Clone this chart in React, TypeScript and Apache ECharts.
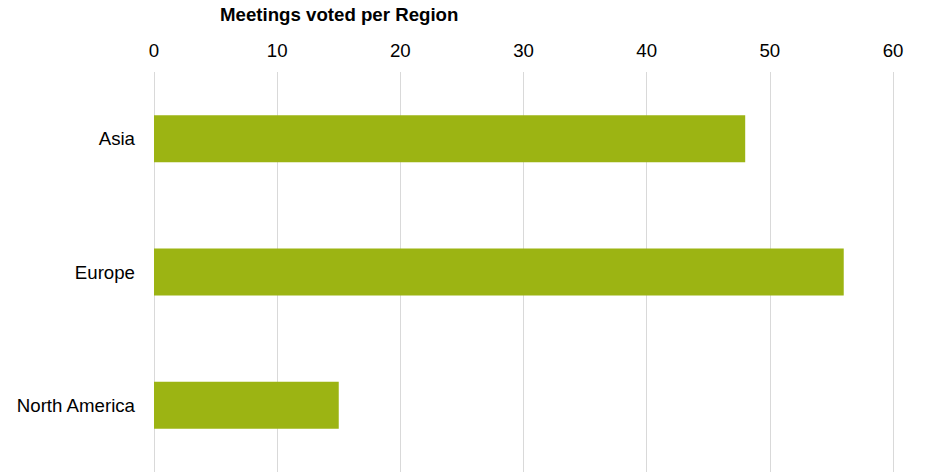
import React, { useEffect, useRef } from "react";
import * as echarts from "echarts";

const categories = ["Asia", "Europe", "North America"];
const meetings = [48, 56, 15];
const ticks = [0, 10, 20, 30, 40, 50, 60];

const FONT = "'Liberation Sans', Arial, Helvetica, sans-serif";

export default function App() {
  const ref = useRef<HTMLDivElement>(null);
  useEffect(() => {
    document.body.style.margin = "0";
    const chart = echarts.init(ref.current!, null, { renderer: "svg" });
    chart.setOption({
      animation: false,
      backgroundColor: "#ffffff",
      title: {
        text: "Meetings voted per Region",
        left: 220,
        top: 5,
        padding: 0,
        textStyle: { fontFamily: FONT, fontSize: 18.67, fontWeight: "bold", color: "#000" },
      },
      grid: { left: 154, right: 32, top: 72, bottom: 0, containLabel: false },
      xAxis: {
        type: "value",
        position: "top",
        min: ticks[0],
        max: ticks[ticks.length - 1],
        interval: 10,
        axisLine: { show: false },
        axisTick: { show: false },
        axisLabel: { fontFamily: FONT, fontSize: 18.67, color: "#000", margin: 12 },
        splitLine: { show: true, lineStyle: { color: "#d9d9d9", width: 1 } },
      },
      yAxis: {
        type: "category",
        data: categories,
        inverse: true,
        axisLine: { show: false },
        axisTick: { show: false },
        axisLabel: { fontFamily: FONT, fontSize: 18.67, color: "#000", margin: 19 },
        splitLine: { show: false },
      },
      series: [
        {
          type: "bar",
          data: meetings,
          barWidth: 47,
          itemStyle: { color: "#9CB413" },
        },
      ],
    });
    return () => chart.dispose();
  }, []);
  return <div ref={ref} style={{ width: 925, height: 472 }} />;
}
